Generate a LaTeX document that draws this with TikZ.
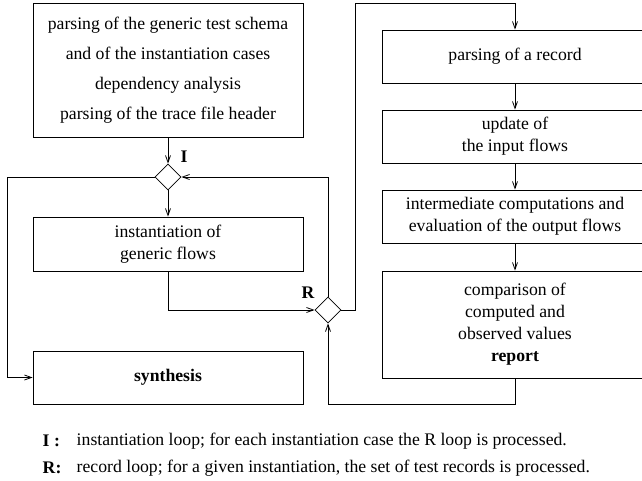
\documentclass[tikz,border=0pt]{standalone}
\usepackage{fontspec}
\setmainfont{Liberation Serif}
\usetikzlibrary{arrows.meta,shapes.geometric}

\begin{document}
\begin{tikzpicture}[x=1pt,y=-1pt,line width=.8pt,
	txt/.style={font=\fontsize{17.7}{22}\selectfont},
	box/.style={txt,draw,align=center,inner sep=0pt,minimum width=266pt,minimum height=53pt},
	loop/.style={draw,diamond,inner sep=0pt,minimum width=26pt,minimum height=26pt},
	flow/.style={-{Straight Barb[length=7pt,width=5pt]}},
	lbl/.style={txt,font=\fontsize{17.7}{22}\selectfont\bfseries}]
\useasboundingbox (0,0) rectangle (642,480);
\clip (0,0) rectangle (642,480);
% left column
\node[box,minimum width=270pt,minimum height=134pt,font=\fontsize{17.7}{30}\selectfont] (setup) at (168,70)
	{parsing of the generic test schema\\and of the instantiation cases\\dependency analysis\\parsing of the trace file header};
\node[loop] (I) at (168,177) {};
\node[lbl] (Ilbl) at (184,157) {I};
\node[box,minimum width=270pt,minimum height=54pt] (inst) at (168,244) {instantiation of\\generic flows};
\node[box,minimum width=270pt] (synth) at (168,377.5) {\textbf{synthesis}};
\node[loop] (R) at (328,310) {};
\node[lbl] (Rlbl) at (308,293) {R};
% right column
\foreach \n/\y/\t in {rec/56.5/{parsing of a record},upd/136.5/{update of\\the input flows},calc/216.5/{intermediate computations and\\evaluation of the output flows}}
{
	\node[box] (\n) at (515,\y) {\t};
}
\node[box,minimum height=107pt] (comp) at (515,324.5) {comparison of\\computed and\\observed values\\\textbf{report}};
% connectors
\draw[flow] (setup) -- (I);
\draw[flow] (I) -- (inst);
\draw[flow] (I.west) -- (7,177) |- (synth.west);
\draw[flow] (R.north) |- (I.east);
\draw[flow] (inst.south) |- (R.west);
\draw[flow] (R.east) -- (355,310) |- (515,3) -- (rec.north);
\draw[flow] (rec) -- (upd);
\draw[flow] (upd) -- (calc);
\draw[flow] (calc) -- (comp);
\draw[flow] (comp.south) -- (515,404) -| (R.south);
% legend
\node[lbl,anchor=west] (keyI) at (39,441) {I :};
\node[txt,anchor=west] (noteI) at (73,441) {instantiation loop; for each instantiation case the R loop is processed.};
\node[lbl,anchor=west] (keyR) at (39,468) {R:};
\node[txt,anchor=west] (noteR) at (73,468) {record loop; for a given instantiation, the set of test records is processed.};
\end{tikzpicture}
\end{document}
